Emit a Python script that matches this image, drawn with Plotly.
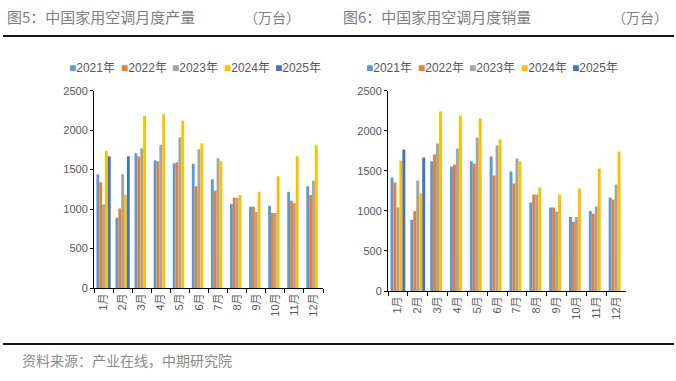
import plotly.graph_objects as go

months = ["1月", "2月", "3月", "4月", "5月", "6月", "7月", "8月", "9月", "10月", "11月", "12月"]
series_names = ["2021年", "2022年", "2023年", "2024年", "2025年"]
colors = ["#5B9BD5", "#ED7D31", "#A5A5A5", "#FFC000", "#4472C4"]

# 图5 production (万台)
prod_2021 = [1441, 890, 1708, 1618, 1580, 1575, 1377, 1064, 1030, 1042, 1220, 1288]
prod_2022 = [1340, 1008, 1666, 1606, 1592, 1288, 1233, 1144, 1030, 949, 1106, 1178]
prod_2023 = [1060, 1440, 1771, 1814, 1911, 1758, 1644, 1144, 962, 949, 1076, 1360]
prod_2024 = [1737, 1180, 2178, 2203, 2118, 1835, 1610, 1178, 1220, 1415, 1670, 1809]
prod_2025 = [1670, 1670, None, None, None, None, None, None, None, None, None, None]

# 图6 sales (万台)
sales_2021 = [1417, 888, 1621, 1554, 1621, 1679, 1492, 1105, 1042, 925, 1000, 1167]
sales_2022 = [1354, 1000, 1704, 1579, 1592, 1442, 1342, 1205, 1042, 863, 963, 1142]
sales_2023 = [1042, 1379, 1841, 1779, 1916, 1816, 1654, 1205, 992, 925, 1055, 1329]
sales_2024 = [1629, 1217, 2240, 2190, 2153, 1891, 1621, 1292, 1205, 1280, 1529, 1741]
sales_2025 = [1766, 1666, None, None, None, None, None, None, None, None, None, None]

prod = [prod_2021, prod_2022, prod_2023, prod_2024, prod_2025]
sales = [sales_2021, sales_2022, sales_2023, sales_2024, sales_2025]

title_left = "图5：中国家用空调月度产量"
title_right = "图6：中国家用空调月度销量"
unit = "（万台）"
source = "资料来源：产业在线，中期研究院"

W, H = 676, 381
tick_font = dict(family="Liberation Sans, Noto Sans CJK SC", size=11, color="#595959")
cjk = "Noto Sans CJK SC"

fig = go.Figure()
for i in range(5):
    fig.add_trace(go.Bar(x=months, y=prod[i], name=series_names[i], marker_color=colors[i],
                         marker_line_width=0, xaxis="x", yaxis="y", showlegend=False))
for i in range(5):
    fig.add_trace(go.Bar(x=months, y=sales[i], name=series_names[i], marker_color=colors[i],
                         marker_line_width=0, xaxis="x2", yaxis="y2", showlegend=False))

def xax(domain, anchor):
    return dict(domain=domain, anchor=anchor, type="category", tickson="boundaries",
                ticks="outside", ticklen=4, tickcolor="black", showline=True,
                linecolor="black", linewidth=1, tickangle=-90, tickfont=tick_font,
                showgrid=False, zeroline=False)

def yax(domain, anchor):
    return dict(domain=domain, anchor=anchor, range=[0, 2500], dtick=500,
                ticks="outside", ticklen=3, tickcolor="black", showline=True,
                linecolor="black", linewidth=1, tickfont=tick_font,
                showgrid=False, zeroline=False)

fig.update_layout(
    width=W, height=H, margin=dict(l=0, r=0, t=0, b=0, autoexpand=False),
    paper_bgcolor="white", plot_bgcolor="white",
    barmode="group", bargap=0.25, bargroupgap=0,
    showlegend=False,
    xaxis=xax([94 / W, 323 / W], "y"),
    yaxis=yax([93 / H, 290.3 / H], "x"),
    xaxis2=xax([388 / W, 626 / W], "y2"),
    yaxis2=yax([90 / H, 290.3 / H], "x2"),
)

annotations = []
# horizontal rules drawn as thin filled annotation boxes
for yy in [36, 344]:
    annotations.append(dict(x=3 / W, y=(H - yy) / H, xref="paper", yref="paper",
                            xanchor="left", yanchor="middle", showarrow=False,
                            text=" ", width=670, height=1, font=dict(size=1),
                            bgcolor="black", bordercolor="black", borderwidth=0.25,
                            borderpad=0))
# titles
for x0, t in [(5, title_left), (341, title_right)]:
    annotations.append(dict(x=x0 / W, y=(H - 17) / H, xref="paper", yref="paper",
                            xanchor="left", yanchor="middle", showarrow=False, text=t,
                            font=dict(family=cjk, size=15, color="#808080")))
for x1 in [302, 670]:
    annotations.append(dict(x=x1 / W, y=(H - 17) / H, xref="paper", yref="paper",
                            xanchor="right", yanchor="middle", showarrow=False, text=unit,
                            font=dict(family=cjk, size=14, color="#808080")))
annotations.append(dict(x=20 / W, y=(H - 360) / H, xref="paper", yref="paper",
                        xanchor="left", yanchor="middle", showarrow=False, text=source,
                        font=dict(family=cjk, size=14, color="#8C8C8C")))
# legends
for start in [67, 364]:
    for i, name in enumerate(series_names):
        annotations.append(dict(
            x=(start + i * 51.5) / W, y=(H - 68) / H, xref="paper", yref="paper",
            xanchor="left", yanchor="middle", showarrow=False,
            text=f"<span style='color:{colors[i]}'>■</span>{name}",
            font=dict(family="Liberation Sans, Noto Sans CJK SC", size=12, color="#595959")))
fig.update_layout(annotations=annotations)

fig.write_html("out.html", config={"displayModeBar": False},
               post_script="document.body.style.margin='0';document.body.style.padding='0';")
